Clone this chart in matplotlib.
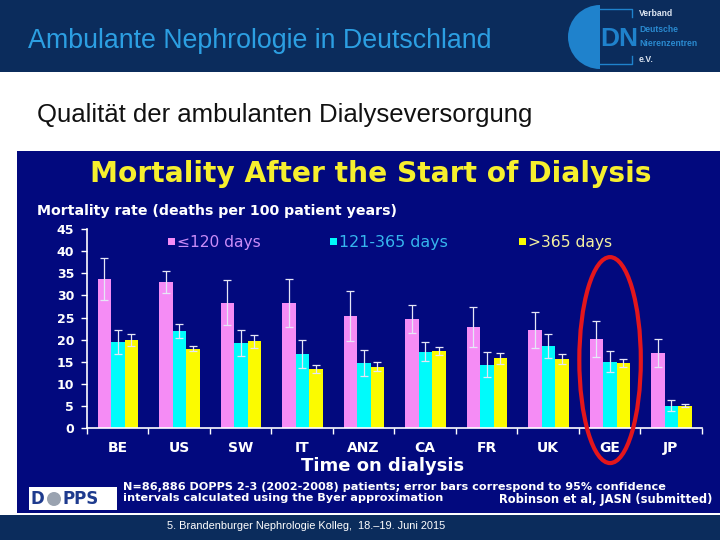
import matplotlib
matplotlib.use("Agg")
import matplotlib.pyplot as plt
from matplotlib.patches import Rectangle, Ellipse, Wedge, Circle
import numpy as np

# ---------------- data ----------------
categories = ['BE', 'US', 'SW', 'IT', 'ANZ', 'CA', 'FR', 'UK', 'GE', 'JP']
series_names = ['\u2264120 days', '121-365 days', '>365 days']
early = [33.7, 33.1, 28.4, 28.3, 25.3, 24.7, 22.9, 22.2, 20.2, 17.0]
early_err = [4.7, 2.5, 5.1, 5.5, 5.6, 3.1, 4.5, 4.0, 4.0, 3.1]
mid = [19.4, 22.0, 19.3, 16.8, 14.7, 17.3, 14.4, 18.6, 15.0, 5.1]
mid_err = [2.7, 1.5, 3.0, 3.2, 2.9, 2.1, 2.8, 2.8, 2.4, 1.2]
late = [19.9, 18.0, 19.6, 13.4, 13.9, 17.4, 15.8, 15.6, 14.8, 5.1]
late_err = [1.3, 0.6, 1.4, 1.0, 1.0, 0.9, 1.2, 1.1, 0.9, 0.3]
y_ticks = [0, 5, 10, 15, 20, 25, 30, 35, 40, 45]

# ---------------- styling ----------------
W, H = 720, 540
fig = plt.figure(figsize=(7.2, 5.4), dpi=100)
fig.patch.set_facecolor('white')

CHART_BG = '#02097e'
BAND = '#0b2c5c'
PINK, CYAN, YELLOW = '#f58cf5', '#00fbfb', '#fbfb00'

bg = fig.add_axes([0, 0, 1, 1], zorder=0)
bg.set_xlim(0, W)
bg.set_ylim(H, 0)
bg.axis('off')

# slide bands
bg.add_patch(Rectangle((0, 0), W, 72, color=BAND, lw=0))
bg.add_patch(Rectangle((17, 151), W - 17, 362, color=CHART_BG, lw=0))
bg.add_patch(Rectangle((0, 515), W, 25, color=BAND, lw=0))

renderer = fig.canvas.get_renderer()


def fit(t, width_px):
    w = t.get_window_extent(renderer).width
    t.set_fontsize(t.get_fontsize() * width_px / w)
    return t


# header
fit(bg.text(28, 41, 'Ambulante Nephrologie in Deutschland', color='#2c9fe2',
            family='Liberation Sans', fontsize=17, va='center', ha='left'), 465)
fit(bg.text(37, 115, 'Qualit\u00e4t der ambulanten Dialyseversorgung', color='#111111',
            family='Liberation Sans', fontsize=17, va='center', ha='left'), 496)

# DN logo
bg.add_patch(Wedge((600, 37), 32, 90, 270, color='#1f82cc', lw=0))
bg.plot([588, 632, 632], [9, 9, 17], color='#1f82cc', lw=1)
bg.plot([588, 632, 632], [64, 64, 56], color='#1f82cc', lw=1)
bg.text(600, 39, 'DN', color='#1f82cc', family='Liberation Sans', weight='bold',
        fontsize=19, va='center', ha='left')
logo_lines = [('Verband', '#dde6f2', 14), ('Deutsche', '#2a8ad0', 29),
              ('Nierenzentren', '#2a8ad0', 44), ('e.V.', '#dde6f2', 59)]
logo_texts = []
fs_logo = 7
for txt, col, yy in logo_lines:
    t = bg.text(639, yy, txt, color=col, family='Liberation Sans', weight='bold',
                fontsize=7, va='center', ha='left')
    logo_texts.append(t)
    if txt == 'Nierenzentren':
        fit(t, 58)
        fs_logo = t.get_fontsize()
for t in logo_texts:
    t.set_fontsize(fs_logo)

# chart title and labels
fit(bg.text(371, 174.5, 'Mortality After the Start of Dialysis', color='#f6ef2e',
            family='DejaVu Sans', weight='bold', fontsize=16, va='center', ha='center'), 562)
fit(bg.text(37, 211, 'Mortality rate (deaths per 100 patient years)', color='white',
            family='DejaVu Sans', weight='bold', fontsize=8, va='center', ha='left'), 358)
fit(bg.text(383, 466, 'Time on dialysis', color='white',
            family='DejaVu Sans', weight='bold', fontsize=10, va='center', ha='center'), 163)

# legend
leg_x = [168, 330, 519]
leg_w = [84, 109, 84]
leg_col = [PINK, CYAN, YELLOW]
leg_txtcol = ['#c98cf7', '#36b6ee', '#f4f0a0']
for lx, lw_, c, tc, name in zip(leg_x, leg_w, leg_col, leg_txtcol, series_names):
    bg.add_patch(Rectangle((lx, 238), 6.5, 6.5, color=c, lw=0))
    fit(bg.text(lx + 9, 242, name, color=tc, family='DejaVu Sans', fontsize=9,
                va='center', ha='left'), lw_)

# footnotes
t1 = bg.text(123, 486.5, 'N=86,886 DOPPS 2-3 (2002-2008) patients; error bars correspond to 95% confidence',
             color='white', family='DejaVu Sans', weight='bold', fontsize=7, va='center', ha='left')
fit(t1, 545)
bg.text(123, 498, 'intervals calculated using the Byer approximation', color='white',
        family='DejaVu Sans', weight='bold', fontsize=t1.get_fontsize(), va='center', ha='left')
fit(bg.text(712, 499, 'Robinson et al, JASN (submitted)', color='white',
            family='DejaVu Sans', weight='bold', fontsize=7, va='center', ha='right'), 215)

# DOPPS logo
bg.add_patch(Rectangle((29, 487), 88, 23, color='white', lw=0))
bg.text(31, 499, 'D', color='#1e3b8e', family='DejaVu Sans', weight='bold', fontsize=12,
        va='center', ha='left')
bg.add_patch(Circle((54, 499), 7, color='#9aa3b0', lw=0))
bg.text(62, 499, 'PPS', color='#1e3b8e', family='DejaVu Sans', weight='bold', fontsize=12,
        va='center', ha='left')

# footer
fit(bg.text(306, 526, '5. Brandenburger Nephrologie Kolleg,  18.\u201319. Juni 2015', color='white',
            family='Liberation Sans', fontsize=7.5, va='center', ha='center'), 278)

# ---------------- chart axes ----------------
x0, x1, y0, y45 = 86.7, 701.7, 428.3, 229.0
ax = fig.add_axes([x0 / W, 1 - y0 / H, (x1 - x0) / W, (y0 - y45) / H], zorder=2)
ax.set_facecolor('none')
n = len(categories)
xc = np.arange(n) + 0.5
bw = 0.22
offsets = [-0.212, 0.008, 0.228]
for vals, errs, col, off in zip([early, mid, late], [early_err, mid_err, late_err],
                                [PINK, CYAN, YELLOW], offsets):
    ax.bar(xc + off, vals, width=bw, color=col, lw=0, zorder=2)
    ax.errorbar(xc + off, vals, yerr=errs, fmt='none', ecolor='#e6e6f6',
                elinewidth=0.9, capsize=2.6, capthick=0.9, zorder=3)

ax.set_xlim(0, n)
ax.set_ylim(0, 45)
ax.set_yticks(y_ticks)
ax.set_yticklabels([str(v) for v in y_ticks])
ax.set_xticks(np.arange(n + 1))
ax.set_xticklabels([])
ax.set_xticks(xc, minor=True)
ax.set_xticklabels(categories, minor=True)
ax.tick_params(axis='x', which='major', direction='out', length=4, width=1, color='white')
ax.tick_params(axis='x', which='minor', length=0, pad=9, labelcolor='white', labelsize=10)
ax.tick_params(axis='y', direction='out', length=4, width=1, color='white', pad=5,
               labelcolor='white', labelsize=9)
for lab in ax.get_xticklabels(minor=True) + ax.get_yticklabels():
    lab.set_fontweight('bold')
    lab.set_family('DejaVu Sans')
for s in ['top', 'right']:
    ax.spines[s].set_visible(False)
for s in ['left', 'bottom']:
    ax.spines[s].set_color('white')
    ax.spines[s].set_linewidth(1.2)

# red ellipse highlighting GE
ge = categories.index('GE')
ax.add_patch(Ellipse((xc[ge] + 0.01, 15.4), 1.0, 46.5, fill=False, edgecolor='#e4161c',
                     lw=3, clip_on=False, zorder=5))

fig.savefig('out.png', dpi=100)
